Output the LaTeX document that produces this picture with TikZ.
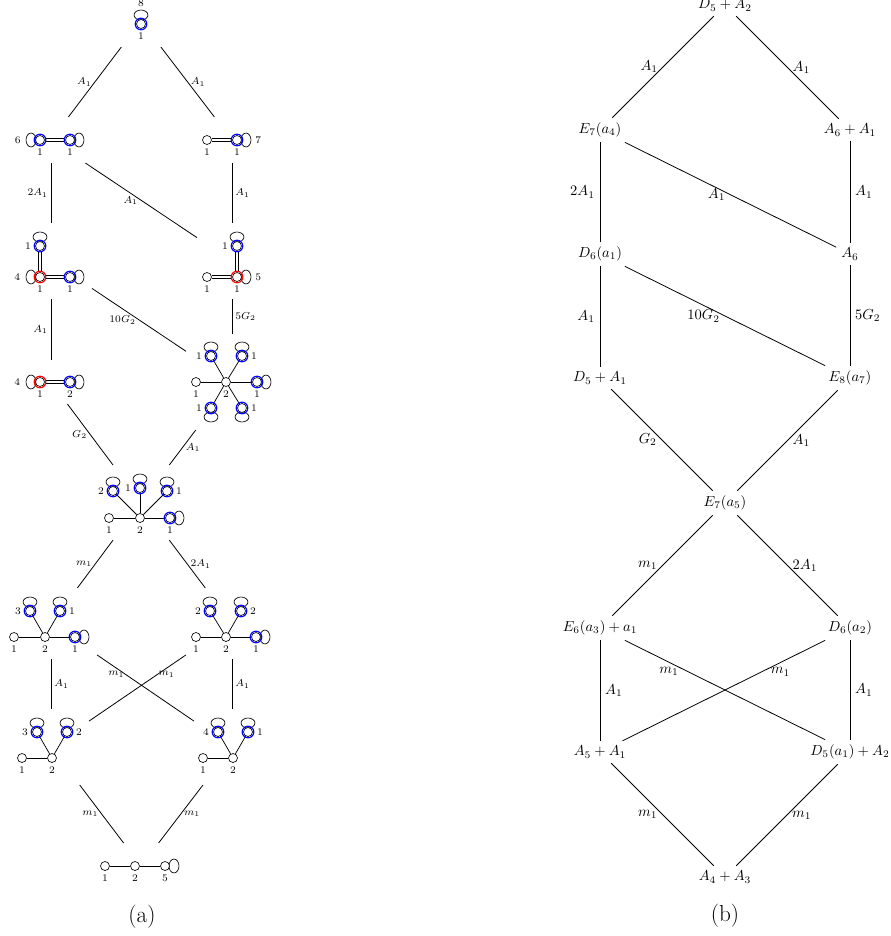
\documentclass[tikz,border=0pt]{standalone}
\pgfdeclarelayer{qback}
\pgfsetlayers{qback,main}
% quiver vertices: plain, blue-ringed, red-ringed
\newcommand\qW[4]{\node[qn,#4] (#1) at (#2,-#3) {};}
\newcommand\qB[4]{\node[qn,#4] (#1) at (#2,-#3) {};\draw[ringb] (#1) circle (4pt);}
\newcommand\qR[4]{\node[qn,#4] (#1) at (#2,-#3) {};\draw[ringr] (#1) circle (4pt);}
% self-loops: vertical (1 up, -1 down) and horizontal (1 right, -1 left)
\newcommand\qloopV[2]{\begin{pgfonlayer}{qback}\draw[qline] ([yshift=#2*6.2pt]#1.center) ellipse [x radius=4.8pt, y radius=3.45pt];\end{pgfonlayer}}
\newcommand\qloopH[2]{\begin{pgfonlayer}{qback}\draw[qline] ([xshift=#2*6.2pt]#1.center) ellipse [x radius=3.45pt, y radius=4.8pt];\end{pgfonlayer}}
% double arrows: horizontal (left node, right node) and vertical (upper node, lower node)
\newcommand\qdblH[2]{\draw[qline] ([yshift=0.85pt]#1.east) -- ([yshift=0.85pt]#2.west);\draw[qline] ([yshift=-0.85pt]#1.east) -- ([yshift=-0.85pt]#2.west);}
\newcommand\qdblV[2]{\draw[qline] ([xshift=0.85pt]#1.south) -- ([xshift=0.85pt]#2.north);\draw[qline] ([xshift=-0.85pt]#1.south) -- ([xshift=-0.85pt]#2.north);}
\tikzset{
  qline/.style={line width=0.45pt},
  qn/.style={circle, draw, fill=white, inner sep=0pt, minimum size=6.2pt, line width=0.45pt},
  ringb/.style={draw=blue, line width=0.8pt},
  ringr/.style={draw=red, line width=0.8pt},
  sgl/.style={line width=0.5pt},
  qlab/.style={font=\fontsize{7}{8}\selectfont, inner sep=1.4pt},
  qcell/.style 2 args={inner sep=0pt, outer sep=0pt, minimum width=#1*1.38pt, minimum height=#2*1.38pt},
  conn/.style={line width=0.55pt},
  elab/.style={font=\fontsize{7}{8}\selectfont, inner sep=2pt},
  bn/.style={inner sep=3.33pt},
  subcap/.style={font=\fontsize{16}{18}\selectfont},
}
\begin{document}
\begin{tikzpicture}[x=0.69pt, y=0.69pt, label distance=1.4pt]
\useasboundingbox (0,0) rectangle (890,-936);

% ---------------- (a): quivers ----------------
% cells holding each quiver
\node[qcell={30}{26}] (c1) at (141,-21) {};
\node[qcell={35}{23}] (c2l) at (51,-140) {};
\node[qcell={35}{23}] (c2r) at (232,-140) {};
\node[qcell={41}{38}] (c3l) at (51,-261) {};
\node[qcell={35}{38}] (c3r) at (232,-261) {};
\node[qcell={40}{22}] (c4l) at (51,-382) {};
\node[qcell={46}{48}] (c4r) at (232,-382) {};
\node[qcell={45}{37.5}] (c5) at (141,-502.5) {};
\node[qcell={46}{35.5}] (c6l) at (51,-623.5) {};
\node[qcell={46}{35.5}] (c6r) at (232,-623.5) {};
\node[qcell={38}{38}] (c7l) at (51,-747) {};
\node[qcell={38}{38}] (c7r) at (232,-747) {};
\node[qcell={45}{23}] (c8) at (141,-866) {};

% connectors between quivers
\draw[conn] (c1) -- (c2l) node[elab,midway,left] (ea1) {$A_1$};
\draw[conn] (c1) -- (c2r) node[elab,midway,right] (ea2) {$A_1$};
\draw[conn] (c2l) -- (c3l) node[elab,midway,left] (ea3) {$2A_1$};
\draw[conn] (c2l) -- (c3r) node[elab,midway,left] (ea4) {$A_1$};
\draw[conn] (c2r) -- (c3r) node[elab,midway,right] (ea5) {$A_1$};
\draw[conn] (c3l) -- (c4l) node[elab,midway,left] (ea6) {$A_1$};
\draw[conn] (c3l) -- (c4r) node[elab,midway,left] (ea7) {$10G_2$};
\draw[conn] (c3r) -- (c4r) node[elab,midway,right] (ea8) {$5G_2$};
\draw[conn] (c4l) -- (c5) node[elab,midway,left] (ea9) {$G_2$};
\draw[conn] (c4r) -- (c5) node[elab,midway,right] (ea10) {$A_1$};
\draw[conn] (c5) -- (c6l) node[elab,midway,left] (ea11) {$m_1$};
\draw[conn] (c5) -- (c6r) node[elab,midway,right] (ea12) {$2A_1$};
\draw[conn] (c6l) -- (c7l) node[elab,midway,right] (ea13) {$A_1$};
\draw[conn] (c6l) -- (c7r) node[elab,pos=0.2,below] (ea14) {$m_1$};
\draw[conn] (c6r) -- (c7l) node[elab,pos=0.2,below] (ea15) {$m_1$};
\draw[conn] (c6r) -- (c7r) node[elab,midway,right] (ea16) {$A_1$};
\draw[conn] (c7l) -- (c8) node[elab,midway,left] (ea17) {$m_1$};
\draw[conn] (c7r) -- (c8) node[elab,midway,right] (ea18) {$m_1$};

% quiver 1
\qB{a1}{141}{24}{label={[qlab]below:1}, label={[qlab,yshift=5.3pt]above:8}}
\qloopV{a1}{1}

% quiver 2 left
\qB{b1}{40}{140}{label={[qlab]below:1}, label={[qlab,xshift=-7pt]left:6}}
\qB{b2}{70}{140}{label={[qlab]below:1}}
\qloopH{b1}{-1}\qloopH{b2}{1}
% quiver 2 right
\qW{b3}{207}{140}{label={[qlab]below:1}}
\qB{b4}{237}{140}{label={[qlab]below:1}, label={[qlab,xshift=6.3pt]right:7}}
\qloopH{b4}{1}

% quiver 3 left
\qB{d1}{40}{246}{label={[qlab]left:1}}
\qR{d2}{40}{277}{label={[qlab]below:1}, label={[qlab,xshift=-7.3pt]left:4}}
\qB{d3}{70}{277}{label={[qlab]below:1}}
\qloopV{d1}{1}\qloopH{d2}{-1}\qloopH{d3}{1}
% quiver 3 right
\qB{d4}{237}{246}{label={[qlab]left:1}}
\qR{d5}{237}{277}{label={[qlab]below:1}, label={[qlab,xshift=6.3pt]right:5}}
\qW{d6}{207}{277}{label={[qlab]below:1}}
\qloopV{d4}{1}\qloopH{d5}{1}

% quiver 4 left
\qR{e1}{40}{382}{label={[qlab]below:1}, label={[qlab,xshift=-7.3pt]left:4}}
\qB{e2}{70}{382}{label={[qlab]below:2}}
\qloopH{e1}{-1}\qloopH{e2}{1}
% quiver 4 right (star)
\qW{e3}{226}{382}{label={[qlab]below:2}}
\qW{e4}{196}{382}{label={[qlab]below:1}}
\qB{e5}{257}{382}{label={[qlab]below:1}}
\qB{e6}{211}{356}{label={[qlab]left:1}}
\qB{e7}{242}{356}{label={[qlab]right:1}}
\qB{e8}{211}{408}{label={[qlab]left:1}}
\qB{e9}{242}{408}{label={[qlab]right:1}}
\qloopH{e5}{1}\qloopV{e6}{1}\qloopV{e7}{1}\qloopV{e8}{-1}\qloopV{e9}{-1}

% quiver 5
\qW{f1}{140}{518}{label={[qlab]below:2}}
\qW{f2}{109}{518}{label={[qlab]below:1}}
\qB{f3}{170}{518}{label={[qlab]below:1}}
\qB{f4}{113}{491}{label={[qlab]left:2}}
\qB{f5}{140}{488}{label={[qlab]left:1}}
\qB{f6}{167}{491}{label={[qlab]right:1}}
\qloopH{f3}{1}\qloopV{f4}{1}\qloopV{f5}{1}\qloopV{f6}{1}

% quiver 6 left
\qW{g1}{45}{637}{label={[qlab]below:2}}
\qW{g2}{14}{637}{label={[qlab]below:1}}
\qB{g3}{75}{637}{label={[qlab]below:1}}
\qB{g4}{30}{611}{label={[qlab]left:3}}
\qB{g5}{60}{611}{label={[qlab]right:1}}
\qloopH{g3}{1}\qloopV{g4}{1}\qloopV{g5}{1}
% quiver 6 right
\qW{g6}{226}{637}{label={[qlab]below:2}}
\qW{g7}{196}{637}{label={[qlab]below:1}}
\qB{g8}{256}{637}{label={[qlab]below:1}}
\qB{g9}{210}{611}{label={[qlab]left:2}}
\qB{g10}{241}{611}{label={[qlab]right:2}}
\qloopH{g8}{1}\qloopV{g9}{1}\qloopV{g10}{1}

% quiver 7 left
\qW{h1}{52}{758}{label={[qlab]below:2}}
\qW{h2}{22}{758}{label={[qlab]below:1}}
\qB{h3}{37}{732}{label={[qlab]left:3}}
\qB{h4}{67}{732}{label={[qlab]right:2}}
\qloopV{h3}{1}\qloopV{h4}{1}
% quiver 7 right
\qW{h5}{233}{758}{label={[qlab]below:2}}
\qW{h6}{203}{758}{label={[qlab]below:1}}
\qB{h7}{218}{732}{label={[qlab]left:4}}
\qB{h8}{248}{732}{label={[qlab]right:1}}
\qloopV{h7}{1}\qloopV{h8}{1}

% quiver 8
\qW{k1}{105}{866}{label={[qlab]below:1}}
\qW{k2}{135}{866}{label={[qlab]below:2}}
\qW{k3}{165}{866}{label={[qlab]below:5}}
\qloopH{k3}{1}

% quiver arrows
\begin{pgfonlayer}{qback}
\qdblH{b1}{b2}
\qdblH{b3}{b4}
\qdblV{d1}{d2} \qdblH{d2}{d3}
\qdblV{d4}{d5} \qdblH{d6}{d5}
\qdblH{e1}{e2}
\foreach \t in {e4,e5,e6,e7,e8,e9} \draw[sgl] (e3) -- (\t);
\foreach \t in {f2,f3,f4,f5,f6} \draw[sgl] (f1) -- (\t);
\foreach \t in {g2,g3,g4,g5} \draw[sgl] (g1) -- (\t);
\foreach \t in {g7,g8,g9,g10} \draw[sgl] (g6) -- (\t);
\foreach \t in {h2,h3,h4} \draw[sgl] (h1) -- (\t);
\foreach \t in {h6,h7,h8} \draw[sgl] (h5) -- (\t);
\draw[sgl] (k1) -- (k2) -- (k3);
\end{pgfonlayer}

\node[subcap] (capa) at (142,-917) {(a)};

% ---------------- (b): orbit diagram ----------------
\node[bn] (D5A2) at (725,-5) {$D_5+A_2$};
\node[bn] (E7a4) at (600,-130) {$E_7(a_4)$};
\node[bn] (A6A1) at (850,-130) {$A_6+A_1$};
\node[bn] (D6a1) at (600,-254) {$D_6(a_1)$};
\node[bn] (A6) at (850,-254) {$A_6$};
\node[bn] (D5A1) at (600,-378) {$D_5+A_1$};
\node[bn] (E8a7) at (850,-378) {$E_8(a_7)$};
\node[bn] (E7a5) at (725,-503) {$E_7(a_5)$};
\node[bn] (E6a3) at (600,-628) {$E_6(a_3)+a_1$};
\node[bn] (D6a2) at (850,-628) {$D_6(a_2)$};
\node[bn] (A5A1) at (600,-752) {$A_5+A_1$};
\node[bn] (D5a1A2) at (850,-752) {$D_5(a_1)+A_2$};
\node[bn] (A4A3) at (725,-877) {$A_4+A_3$};

\draw[conn] (D5A2) -- (E7a4) node[midway,left] (eb1) {$A_1$};
\draw[conn] (D5A2) -- (A6A1) node[midway,right] (eb2) {$A_1$};
\draw[conn] (E7a4) -- (D6a1) node[midway,left] (eb3) {$2A_1$};
\draw[conn] (E7a4) -- (A6) node[midway,left] (eb4) {$A_1$};
\draw[conn] (A6A1) -- (A6) node[midway,right] (eb5) {$A_1$};
\draw[conn] (D6a1) -- (D5A1) node[midway,left] (eb6) {$A_1$};
\draw[conn] (D6a1) -- (E8a7) node[midway,left] (eb7) {$10G_2$};
\draw[conn] (A6) -- (E8a7) node[midway,right] (eb8) {$5G_2$};
\draw[conn] (D5A1) -- (E7a5) node[midway,left] (eb9) {$G_2$};
\draw[conn] (E8a7) -- (E7a5) node[midway,right] (eb10) {$A_1$};
\draw[conn] (E7a5) -- (E6a3) node[midway,left] (eb11) {$m_1$};
\draw[conn] (E7a5) -- (D6a2) node[midway,right] (eb12) {$2A_1$};
\draw[conn] (E6a3) -- (D5a1A2) node[pos=0.22,below] (eb13) {$m_1$};
\draw[conn] (D6a2) -- (A5A1) node[pos=0.22,below] (eb14) {$m_1$};
\draw[conn] (E6a3) -- (A5A1) node[midway,right] (eb15) {$A_1$};
\draw[conn] (D6a2) -- (D5a1A2) node[midway,right] (eb16) {$A_1$};
\draw[conn] (A5A1) -- (A4A3) node[midway,left] (eb17) {$m_1$};
\draw[conn] (D5a1A2) -- (A4A3) node[midway,right] (eb18) {$m_1$};

\node[subcap] (capb) at (725,-916) {(b)};
\end{tikzpicture}
\end{document}
